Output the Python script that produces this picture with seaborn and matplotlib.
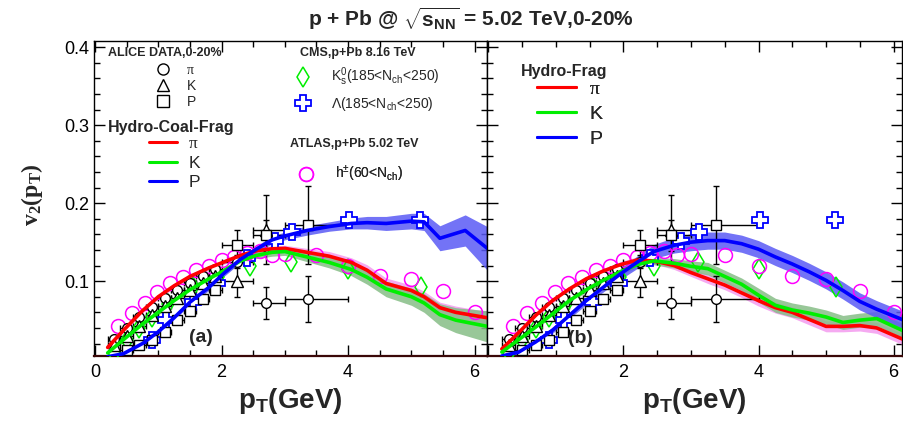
import matplotlib
matplotlib.use("Agg")
import matplotlib.pyplot as plt
import seaborn as sns
import numpy as np
from matplotlib.lines import Line2D

# ---- model curves: Hydro-Coal-Frag (panel a) ----
pt_coal = [0.2, 0.45, 0.75, 1.0, 1.25, 1.5, 1.8, 2.05, 2.3, 2.55, 2.8, 3.0, 3.35, 3.7,
           4.05, 4.3, 4.6, 5.0, 5.2, 5.45, 5.7, 6.2]
pi_coal = [0.015, 0.037, 0.062, 0.080, 0.094, 0.106, 0.117, 0.125, 0.133, 0.139, 0.1415, 0.142,
           0.137, 0.132, 0.124, 0.114, 0.097, 0.088, 0.080, 0.066, 0.060, 0.053]
pi_coal_err = [0.002, 0.003, 0.003, 0.003, 0.003, 0.003, 0.003, 0.003, 0.004, 0.004, 0.004, 0.004,
               0.005, 0.006, 0.006, 0.007, 0.007, 0.007, 0.007, 0.007, 0.008, 0.008]
k_coal = [0.008, 0.025, 0.045, 0.060, 0.075, 0.089, 0.103, 0.114, 0.126, 0.133, 0.137, 0.138,
          0.131, 0.124, 0.115, 0.105, 0.090, 0.080, 0.072, 0.057, 0.050, 0.042]
k_coal_err = [0.002, 0.003, 0.003, 0.003, 0.003, 0.003, 0.003, 0.004, 0.004, 0.004, 0.005, 0.005,
              0.006, 0.007, 0.008, 0.009, 0.010, 0.011, 0.012, 0.014, 0.016, 0.020]
pt_coal_p = [0.2, 0.45, 0.75, 1.0, 1.25, 1.5, 1.8, 2.05, 2.3, 2.55, 2.8, 3.0, 3.35, 3.7,
             4.05, 4.3, 4.6, 5.0, 5.2, 5.45, 5.85, 6.2]
p_coal = [0.003, 0.007, 0.020, 0.035, 0.053, 0.073, 0.092, 0.111, 0.128, 0.141, 0.153, 0.158,
          0.165, 0.170, 0.174, 0.175, 0.174, 0.177, 0.176, 0.155, 0.165, 0.142]
p_coal_err = [0.002, 0.002, 0.003, 0.003, 0.003, 0.003, 0.004, 0.004, 0.004, 0.004, 0.005, 0.005,
              0.006, 0.006, 0.007, 0.008, 0.009, 0.010, 0.011, 0.016, 0.020, 0.028]

# ---- model curves: Hydro-Frag (panel b) ----
pt_frag = [0.2, 0.45, 0.7, 0.95, 1.2, 1.45, 1.7, 1.95, 2.2, 2.45, 2.75, 3.0, 3.25, 3.5, 3.75,
           4.0, 4.25, 4.5, 4.75, 5.0, 5.25, 5.5, 5.75, 6.15]
pi_frag = [0.013, 0.034, 0.056, 0.075, 0.090, 0.103, 0.113, 0.121, 0.127, 0.126, 0.120, 0.111,
           0.103, 0.095, 0.085, 0.075, 0.066, 0.060, 0.051, 0.042, 0.042, 0.043, 0.040, 0.025]
pi_frag_err = [0.002, 0.003, 0.003, 0.003, 0.003, 0.003, 0.003, 0.004, 0.004, 0.004, 0.005, 0.005,
               0.006, 0.006, 0.006, 0.007, 0.007, 0.007, 0.007, 0.007, 0.007, 0.007, 0.007, 0.007]
k_frag = [0.009, 0.025, 0.041, 0.058, 0.075, 0.089, 0.101, 0.112, 0.121, 0.126, 0.123, 0.119,
          0.116, 0.106, 0.096, 0.082, 0.069, 0.063, 0.059, 0.054, 0.047, 0.050, 0.052, 0.036]
k_frag_err = [0.002, 0.003, 0.003, 0.003, 0.003, 0.003, 0.004, 0.004, 0.004, 0.005, 0.006, 0.007,
              0.008, 0.008, 0.008, 0.009, 0.009, 0.009, 0.009, 0.009, 0.009, 0.009, 0.009, 0.009]
p_frag = [0.004, 0.009, 0.022, 0.037, 0.056, 0.075, 0.092, 0.109, 0.124, 0.138, 0.146, 0.150,
          0.152, 0.152, 0.148, 0.141, 0.131, 0.122, 0.112, 0.101, 0.088, 0.074, 0.064, 0.050]
p_frag_err = [0.002, 0.003, 0.003, 0.004, 0.004, 0.005, 0.006, 0.007, 0.008, 0.009, 0.010, 0.011,
              0.011, 0.011, 0.011, 0.011, 0.011, 0.011, 0.011, 0.011, 0.011, 0.011, 0.011, 0.011]

# ---- ALICE data, 0-20% ----
alice_pt_pi = [0.3, 0.5, 0.7, 0.9, 1.1, 1.3, 1.5, 1.7, 1.9, 2.25, 2.71, 3.37]
alice_pi = [0.026, 0.040, 0.054, 0.067, 0.078, 0.089, 0.098, 0.107, 0.115, 0.125, 0.072, 0.077]
alice_pi_err = [0.003, 0.003, 0.003, 0.003, 0.003, 0.004, 0.004, 0.004, 0.005, 0.008, 0.020, 0.030]
alice_pi_xlo = [0.1, 0.1, 0.1, 0.1, 0.1, 0.1, 0.1, 0.1, 0.1, 0.25, 0.21, 0.37]
alice_pi_xhi = [0.1, 0.1, 0.1, 0.1, 0.1, 0.1, 0.1, 0.1, 0.1, 0.25, 0.29, 0.63]
alice_pt_k = [0.3, 0.5, 0.7, 0.9, 1.1, 1.3, 1.5, 1.7, 1.9, 2.25, 2.71]
alice_k = [0.018, 0.030, 0.043, 0.056, 0.068, 0.079, 0.089, 0.098, 0.106, 0.100, 0.166]
alice_k_err = [0.004, 0.004, 0.004, 0.004, 0.004, 0.005, 0.005, 0.006, 0.007, 0.020, 0.044]
alice_k_xlo = [0.1, 0.1, 0.1, 0.1, 0.1, 0.1, 0.1, 0.1, 0.1, 0.25, 0.21]
alice_k_xhi = [0.1, 0.1, 0.1, 0.1, 0.1, 0.1, 0.1, 0.1, 0.1, 0.25, 0.29]
alice_pt_p = [0.5, 0.7, 0.9, 1.1, 1.3, 1.5, 1.7, 1.9, 2.25, 2.71, 3.37]
alice_p = [0.012, 0.018, 0.025, 0.035, 0.050, 0.062, 0.077, 0.089, 0.147, 0.159, 0.172]
alice_p_err = [0.003, 0.003, 0.003, 0.003, 0.004, 0.004, 0.004, 0.004, 0.019, 0.020, 0.050]
alice_p_xlo = [0.1, 0.1, 0.1, 0.1, 0.1, 0.1, 0.1, 0.1, 0.25, 0.21, 0.37]
alice_p_xhi = [0.1, 0.1, 0.1, 0.1, 0.1, 0.1, 0.1, 0.1, 0.25, 0.29, 0.63]

# ---- CMS p+Pb 8.16 TeV ----
cms_k0s_pt = [0.3, 0.5, 0.7, 0.9, 1.15, 1.55, 1.95, 2.45, 3.1, 4.0, 5.15]
cms_k0s = [0.008, 0.025, 0.040, 0.054, 0.071, 0.092, 0.105, 0.119, 0.124, 0.116, 0.093]
cms_lam_pt = [0.9, 1.12, 1.55, 1.93, 2.4, 2.85, 3.12, 4.02, 5.13]
cms_lam = [0.025, 0.050, 0.073, 0.097, 0.130, 0.152, 0.163, 0.179, 0.178]

# ---- ATLAS p+Pb 5.02 TeV ----
atlas_pt = [0.37, 0.58, 0.79, 0.98, 1.18, 1.39, 1.59, 1.8, 2.0, 2.2, 2.4, 2.6, 2.8, 3.0,
            3.5, 4.0, 4.5, 5.0, 5.5, 6.0]
atlas_h = [0.043, 0.059, 0.072, 0.086, 0.097, 0.105, 0.114, 0.120, 0.127, 0.131, 0.136, 0.139,
           0.134, 0.135, 0.134, 0.119, 0.106, 0.103, 0.087, 0.060]

RED, GREEN, BLUE, MAG = "#ff0000", "#00ee00", "#0000ff", "#ff00ff"
BAND_RED, BAND_GREEN, BAND_BLUE = "#f49bef", "#86bd86", "#5a5af5"

sns.set_theme(style="ticks")
plt.rcParams["font.family"] = ["Liberation Sans", "DejaVu Sans"]
plt.rcParams["mathtext.fontset"] = "custom"
plt.rcParams["mathtext.rm"] = "Liberation Sans"
plt.rcParams["mathtext.it"] = "Liberation Sans:italic"
plt.rcParams["mathtext.bf"] = "Liberation Sans:bold"
plt.rcParams["mathtext.tt"] = "Liberation Serif:bold"


def draw_model(ax, x, y, err, line_color, band_color, alpha):
    y = np.array(y)
    e = np.array(err)
    ax.fill_between(x, y - e, y + e, color=band_color, alpha=alpha, lw=0, zorder=1)
    sns.lineplot(x=x, y=y, ax=ax, color=line_color, lw=2.6, sort=False,
                 estimator=None, zorder=4)


def draw_data(ax):
    ekw = dict(ls="none", color="black", mfc="white", mec="black", ecolor="black",
               elinewidth=1.0, capsize=2.0, capthick=1.0, mew=1.0, zorder=3)
    ax.errorbar(alice_pt_pi, alice_pi, yerr=alice_pi_err, xerr=[alice_pi_xlo, alice_pi_xhi],
                marker="o", ms=7, **ekw)
    ax.errorbar(alice_pt_k, alice_k, yerr=alice_k_err, xerr=[alice_k_xlo, alice_k_xhi],
                marker="^", ms=8, **ekw)
    ax.errorbar(alice_pt_p, alice_p, yerr=alice_p_err, xerr=[alice_p_xlo, alice_p_xhi],
                marker="s", ms=7, **ekw)
    ax.plot(cms_k0s_pt, cms_k0s, ls="none", marker="d", ms=10, mfc="none", mec=GREEN,
            mew=1.1, zorder=3)
    ax.plot(cms_lam_pt, cms_lam, ls="none", marker="P", ms=11, mfc="white", mec=BLUE,
            mew=1.3, zorder=3)
    ax.plot(atlas_pt, atlas_h, ls="none", marker="o", ms=10, mfc="none", mec=MAG,
            mew=1.1, zorder=3)


def style_axes(ax, xlim, show_ylabels):
    ax.set_xlim(*xlim)
    ax.set_ylim(0.004, 0.408)
    ax.set_yticks([0.1, 0.2, 0.3, 0.4])
    ax.set_yticks(np.arange(0.02, 0.41, 0.02), minor=True)
    ax.set_xticks(np.arange(0, 6.3, 0.5), minor=True)
    ax.tick_params(which="both", direction="in", top=True, right=True, width=1.0,
                   labelsize=13, colors="black")
    ax.tick_params(which="major", length=8)
    ax.tick_params(which="minor", length=4)
    ax.tick_params(axis="x", pad=6)
    if not show_ylabels:
        ax.set_yticklabels([])
    for s in ax.spines.values():
        s.set_color("black")
        s.set_linewidth(1.0)
    ax.spines["bottom"].set_color("#3a0808")
    ax.spines["bottom"].set_linewidth(1.6)
    ax.set_xlabel(r"$\mathbf{p_T}$(GeV)", fontsize=20, fontweight="bold", labelpad=3)
    ax.set_ylabel("")


def serif_first(leg):
    leg.get_texts()[0].set_fontfamily(["Liberation Serif", "DejaVu Serif"])


fig = plt.figure(figsize=(9.04, 4.30), dpi=100)
ax1 = fig.add_axes([94 / 904, 74 / 430, 392.7 / 904, 315 / 430])
ax2 = fig.add_axes([486.7 / 904, 74 / 430, 415 / 904, 315 / 430])

# panel (a): Hydro-Coal-Frag
draw_model(ax1, pt_coal, pi_coal, pi_coal_err, RED, BAND_RED, 0.85)
draw_model(ax1, pt_coal, k_coal, k_coal_err, GREEN, BAND_GREEN, 0.85)
draw_model(ax1, pt_coal_p, p_coal, p_coal_err, BLUE, BAND_BLUE, 0.85)
draw_data(ax1)
style_axes(ax1, (-0.016, 6.19), True)
ax1.set_xticks([0, 2, 4, 6])

# panel (b): Hydro-Frag
draw_model(ax2, pt_frag, pi_frag, pi_frag_err, RED, BAND_RED, 0.85)
draw_model(ax2, pt_frag, k_frag, k_frag_err, GREEN, BAND_GREEN, 0.85)
draw_model(ax2, pt_frag, p_frag, p_frag_err, BLUE, BAND_BLUE, 0.85)
draw_data(ax2)
style_axes(ax2, (-0.024, 6.12), False)
ax2.set_xticks([0, 2, 4, 6])
ax2.set_xticklabels(["", "2", "4", "6"])

# ---- legends, panel (a) ----
ax1.text(0.036, 0.963, "ALICE DATA,0-20%", transform=ax1.transAxes, fontsize=9,
         fontweight="bold", va="center", ha="left")
h_alice = [Line2D([], [], ls="none", marker=m, ms=s, mfc="white", mec="black", mew=1.0)
           for m, s in [("o", 8), ("^", 9), ("s", 8)]]
leg1 = ax1.legend(h_alice, ["π", "K", "P"], loc="upper left", bbox_to_anchor=(0.151, 0.928),
                  frameon=False, fontsize=10, borderpad=0, borderaxespad=0,
                  handlelength=1.4, handletextpad=1.0, labelspacing=0.15)
serif_first(leg1)
ax1.add_artist(leg1)

ax1.text(0.036, 0.725, "Hydro-Coal-Frag", transform=ax1.transAxes, fontsize=11.5,
         fontweight="bold", va="center", ha="left")
h_lines = [Line2D([], [], color=c, lw=2.2) for c in (RED, GREEN, BLUE)]
leg2 = ax1.legend(h_lines, ["π", "K", "P"], loc="upper left", bbox_to_anchor=(0.140, 0.700),
                  frameon=False, fontsize=12.5, borderpad=0, borderaxespad=0,
                  handlelength=1.6, handletextpad=0.7, labelspacing=0.22)
serif_first(leg2)
ax1.add_artist(leg2)

ax1.text(0.525, 0.963, "CMS,p+Pb 8.16 TeV", transform=ax1.transAxes, fontsize=9,
         fontweight="bold", va="center", ha="left")
h_cms = [Line2D([], [], ls="none", marker="d", ms=10, mfc="none", mec=GREEN, mew=1.1),
         Line2D([], [], ls="none", marker="P", ms=11, mfc="white", mec=BLUE, mew=1.3)]
leg3 = ax1.legend(h_cms, [r"K$_{\rm s}^{0}$(185<N$_{\rm ch}$<250)", r"Λ(185<N$_{\rm ch}$<250)"],
                  loc="upper left", bbox_to_anchor=(0.5075, 0.921), frameon=False, fontsize=10,
                  borderpad=0, borderaxespad=0, handlelength=1.4, handletextpad=1.3,
                  labelspacing=0.45)
ax1.add_artist(leg3)

ax1.text(0.499, 0.673, "ATLAS,p+Pb 5.02 TeV", transform=ax1.transAxes, fontsize=9,
         fontweight="bold", va="center", ha="left")
h_atlas = [Line2D([], [], ls="none", marker="o", ms=10, mfc="none", mec=MAG, mew=1.1)]
leg4 = ax1.legend(h_atlas, [r"h$^{\pm}$(60<N$_{\rm ch}$)"], loc="upper left",
                  bbox_to_anchor=(0.515, 0.61), frameon=False, fontsize=10, borderpad=0,
                  borderaxespad=0, handlelength=1.4, handletextpad=1.4)
ax1.add_artist(leg4)

ax1.text(0.272, 0.06, "(a)", transform=ax1.transAxes, fontsize=14, fontweight="bold",
         va="center", ha="center", zorder=6)

# ---- legend, panel (b) ----
ax2.text(0.082, 0.902, "Hydro-Frag", transform=ax2.transAxes, fontsize=11.5,
         fontweight="bold", va="center", ha="left")
leg5 = ax2.legend(h_lines, ["π", "K", "P"], loc="upper left", bbox_to_anchor=(0.121, 0.875),
                  frameon=False, fontsize=14, borderpad=0, borderaxespad=0,
                  handlelength=2.0, handletextpad=0.7, labelspacing=0.38)
serif_first(leg5)
ax2.add_artist(leg5)
ax2.text(0.227, 0.057, "(b)", transform=ax2.transAxes, fontsize=14, fontweight="bold",
         va="center", ha="center", zorder=6)

# ---- figure texts ----
fig.text(0.521, 0.958, r"p + Pb @ $\mathbf{\sqrt{s_{NN}}}$ = 5.02 TeV,0-20%", ha="center",
         va="center", fontsize=15, fontweight="bold")
fig.text(0.035, 0.547, r"$\mathtt{v_2(p_T)}$", rotation=90, ha="center", va="center",
         fontsize=17)

fig.savefig("out.png", dpi=100)
